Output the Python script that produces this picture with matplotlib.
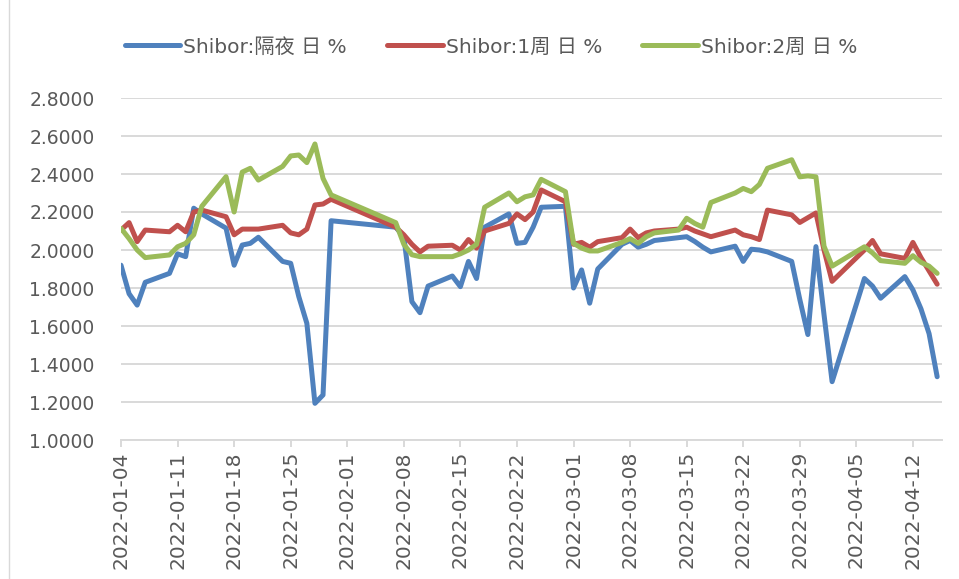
import matplotlib
matplotlib.use('Agg')
import matplotlib.pyplot as plt
import pandas as pd
from matplotlib.lines import Line2D

# ---------------- data ----------------
dates = [
    '2022-01-04', '2022-01-05', '2022-01-06', '2022-01-07', '2022-01-10', '2022-01-11', '2022-01-12',
    '2022-01-13', '2022-01-14', '2022-01-17', '2022-01-18', '2022-01-19', '2022-01-20', '2022-01-21',
    '2022-01-24', '2022-01-25', '2022-01-26', '2022-01-27', '2022-01-28', '2022-01-29', '2022-01-30',
    '2022-02-07', '2022-02-08', '2022-02-09', '2022-02-10', '2022-02-11', '2022-02-14', '2022-02-15',
    '2022-02-16', '2022-02-17', '2022-02-18', '2022-02-21', '2022-02-22', '2022-02-23', '2022-02-24',
    '2022-02-25', '2022-02-28',
    '2022-03-01', '2022-03-02', '2022-03-03', '2022-03-04', '2022-03-07', '2022-03-08', '2022-03-09',
    '2022-03-10', '2022-03-11', '2022-03-14', '2022-03-15', '2022-03-16', '2022-03-17', '2022-03-18',
    '2022-03-21', '2022-03-22', '2022-03-23', '2022-03-24', '2022-03-25', '2022-03-28', '2022-03-29',
    '2022-03-30', '2022-03-31',
    '2022-04-01', '2022-04-02', '2022-04-06', '2022-04-07', '2022-04-08', '2022-04-11', '2022-04-12',
    '2022-04-13', '2022-04-14', '2022-04-15',
]

overnight = [
    1.920, 1.770, 1.710, 1.830, 1.877, 1.980, 1.965,
    2.220, 2.190, 2.115, 1.920, 2.026, 2.035, 2.067,
    1.940, 1.930, 1.755, 1.614, 1.193, 1.237, 2.154,
    2.120, 2.070, 1.728, 1.670, 1.810, 1.863, 1.807,
    1.940, 1.850, 2.120, 2.190, 2.035, 2.040, 2.120,
    2.225, 2.230,
    1.800, 1.895, 1.720, 1.900, 2.030, 2.050, 2.015,
    2.030, 2.050, 2.065, 2.070, 2.045, 2.015, 1.990,
    2.020, 1.940, 2.004, 2.000, 1.990, 1.940, 1.740,
    1.555, 2.018,
    1.660, 1.307, 1.850, 1.810, 1.746, 1.860, 1.790,
    1.690, 1.560, 1.333,
]

week1 = [
    2.105, 2.144, 2.044, 2.105, 2.096, 2.130, 2.096,
    2.200, 2.210, 2.175, 2.080, 2.110, 2.110, 2.110,
    2.130, 2.090, 2.080, 2.110, 2.237, 2.242, 2.267,
    2.120, 2.080, 2.030, 1.990, 2.020, 2.025, 2.000,
    2.055, 2.010, 2.100, 2.140, 2.190, 2.160, 2.200,
    2.316, 2.254,
    2.030, 2.040, 2.015, 2.044, 2.065, 2.110, 2.065,
    2.090, 2.100, 2.110, 2.120, 2.100, 2.085, 2.070,
    2.105, 2.080, 2.070, 2.055, 2.210, 2.185, 2.145,
    2.170, 2.195,
    2.000, 1.835, 2.000, 2.050, 1.980, 1.956, 2.040,
    1.960, 1.890, 1.820,
]

week2 = [
    2.114, 2.060, 2.000, 1.960, 1.974, 2.017, 2.035,
    2.080, 2.230, 2.386, 2.200, 2.410, 2.430, 2.368,
    2.440, 2.495, 2.500, 2.460, 2.558, 2.377, 2.290,
    2.144, 2.030, 1.975, 1.965, 1.965, 1.965, 1.980,
    2.000, 2.030, 2.225, 2.300, 2.254, 2.280, 2.290,
    2.372, 2.307,
    2.035, 2.010, 1.995, 1.995, 2.040, 2.060, 2.035,
    2.070, 2.090, 2.105, 2.167, 2.140, 2.120, 2.250,
    2.300, 2.324, 2.307, 2.345, 2.430, 2.475, 2.385,
    2.390, 2.385,
    2.020, 1.915, 2.017, 1.985, 1.944, 1.930, 1.970,
    1.935, 1.915, 1.877,
]

series_names = ['Shibor:隔夜 日 %', 'Shibor:1周 日 %', 'Shibor:2周 日 %']
series_colors = ['#4F81BD', '#C0504D', '#9BBB59']
y_ticks = [1.0, 1.2, 1.4, 1.6, 1.8, 2.0, 2.2, 2.4, 2.6, 2.8]
x_tick_dates = pd.date_range('2022-01-04', '2022-04-12', freq='7D')

# ---------------- figure ----------------
W, H = 959, 579
fig = plt.figure(figsize=(W / 100, H / 100), dpi=100)
fig.patch.set_facecolor('white')

ax = fig.add_axes([121 / W, 1 - 440 / H, (942 - 121) / W, (440 - 98) / H])

x = pd.to_datetime(dates)
for vals, name, col in zip([overnight, week1, week2], series_names, series_colors):
    ax.plot(x, vals, color=col, lw=3.6, label=name,
            solid_joinstyle='round', solid_capstyle='round')

start = pd.Timestamp('2022-01-04')
ax.set_xlim(start, start + pd.Timedelta(days=101.6))
ax.set_ylim(1.0, 2.8)

grid_col = '#D9D9D9'
for s in ['top', 'right', 'left']:
    ax.spines[s].set_visible(False)
ax.spines['bottom'].set_color(grid_col)
ax.spines['bottom'].set_linewidth(1.4)

ax.set_yticks(y_ticks)
ax.set_yticklabels([f'{v:.4f}' for v in y_ticks])
ax.yaxis.grid(True, color=grid_col, lw=1.4)
ax.set_axisbelow(True)
ax.tick_params(axis='y', length=0, pad=19, labelsize=13.5, labelcolor='#595959')

ax.set_xticks(x_tick_dates)
ax.set_xticklabels([d.strftime('%Y-%m-%d') for d in x_tick_dates], rotation=90)
ax.tick_params(axis='x', length=5, width=1.4, color=grid_col, pad=3,
               labelsize=14.5, labelcolor='#595959')

# legend
handles = [Line2D([0], [0], color=c, lw=3.6, solid_capstyle='round') for c in series_colors]
fig.legend(handles, series_names, loc='center left',
           bbox_to_anchor=(125 / W, 1 - 47 / H), ncol=3, frameon=False,
           handlelength=2.75, handletextpad=0.15, columnspacing=2.0,
           borderpad=0, borderaxespad=0, labelcolor='#595959',
           prop={'family': ['DejaVu Sans', 'Noto Sans CJK SC'], 'size': 14.5})

# left border line of the chart area
fig.add_artist(Line2D([8.5 / W, 8.5 / W], [0, 1], transform=fig.transFigure,
                      color=grid_col, lw=1.0))

fig.savefig('out.png', dpi=100)
